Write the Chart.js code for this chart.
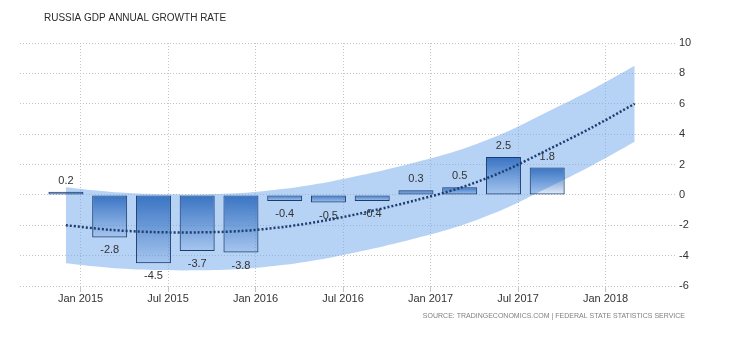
<!DOCTYPE html>
<html>
<head>
<meta charset="utf-8">
<title>Russia GDP Annual Growth Rate</title>
<script src="https://cdn.jsdelivr.net/npm/chart.js@4"></script>
<style>
  html, body { margin: 0; padding: 0; background: #fff; }
</style>
</head>
<body>
<canvas id="grafico" width="730" height="340"></canvas>
<script>
// datos (fin de cada trimestre)
const trimestres = ['2014-12', '2015-03', '2015-06', '2015-09', '2015-12', '2016-03',
                    '2016-06', '2016-09', '2016-12', '2017-03', '2017-06', '2017-09'];
const crecimiento = [0.2, -2.8, -4.5, -3.7, -3.8, -0.4, -0.5, -0.4, 0.3, 0.5, 2.5, 1.8];

// tendencia y banda de pronostico
const trimestresTendencia = [...trimestres, '2017-12', '2018-03'];
const tendencia = [-2.0, -2.3, -2.45, -2.47, -2.38, -2.1, -1.65, -1.05, -0.35, 0.45, 1.55, 2.95, 4.4, 6.0];
const bandaSuperior = [0.5, 0.2, 0.05, 0.03, 0.12, 0.4, 0.85, 1.45, 2.15, 2.95, 4.05, 5.45, 6.9, 8.5];
const bandaInferior = [-4.5, -4.8, -4.95, -4.97, -4.88, -4.6, -4.15, -3.55, -2.85, -2.05, -0.95, 0.45, 1.9, 3.5];

// etiquetas del eje x
const fechasEjeX = ['2015-01', '2015-07', '2016-01', '2016-07', '2017-01', '2017-07', '2018-01'];
const etiquetasEjeX = ['Jan 2015', 'Jul 2015', 'Jan 2016', 'Jul 2016', 'Jan 2017', 'Jul 2017', 'Jan 2018'];

const titulo = 'RUSSIA GDP ANNUAL GROWTH RATE';
const fuente = 'SOURCE: TRADINGECONOMICS.COM | FEDERAL STATE STATISTICS SERVICE';

// meses desde enero 2015
const mes = (s) => {
    const [a, m] = s.split('-').map(Number);
    return (a - 2015) * 12 + (m - 1);
};

const puntos = (fechas, valores) => valores.map((v, i) => ({ x: mes(fechas[i]), y: v }));

const FUENTE = '"Liberation Sans", Arial, sans-serif';
Chart.defaults.font.family = FUENTE;
Chart.defaults.font.size = 11;
Chart.defaults.color = '#333';

// degradado de cada barra
const colorBarra = (c) => {
    const chart = c.chart;
    if (!chart.chartArea || c.raw == null) return 'rgba(55,115,195,0.6)';
    const y = chart.scales.y;
    const p1 = y.getPixelForValue(c.raw.y);
    const p0 = y.getPixelForValue(0);
    const arriba = Math.min(p0, p1), abajo = Math.max(p0, p1);
    const g = chart.ctx.createLinearGradient(0, arriba, 0, abajo + 0.01);
    g.addColorStop(0, 'rgba(50,110,192,0.95)');
    g.addColorStop(1, 'rgba(50,110,192,0.12)');
    return g;
};

// valores sobre / bajo las barras
const etiquetasValor = {
    id: 'etiquetasValor',
    afterDatasetDraw(chart, args) {
        if (args.index !== 0) return;
        const ctx = chart.ctx;
        ctx.save();
        ctx.font = '11px ' + FUENTE;
        ctx.fillStyle = '#333';
        ctx.textAlign = 'center';
        ctx.textBaseline = 'middle';
        args.meta.data.forEach((barra, i) => {
            const v = crecimiento[i];
            const y = v >= 0 ? barra.y - 11 : barra.y + 13;
            ctx.fillText(v.toFixed(1), barra.x, y);
        });
        ctx.restore();
    }
};

// titulo y fuente
const textos = {
    id: 'textos',
    afterDraw(chart) {
        const ctx = chart.ctx;
        ctx.save();
        ctx.textBaseline = 'middle';
        ctx.fillStyle = '#2b2b2b';
        ctx.textAlign = 'left';
        ctx.font = '10px ' + FUENTE;
        ctx.fillText(titulo, 44, 18);
        ctx.fillStyle = '#808080';
        ctx.textAlign = 'right';
        ctx.font = '7px ' + FUENTE;
        ctx.fillText(fuente, 685, 316);
        ctx.restore();
    }
};

const grafico = new Chart(document.getElementById('grafico').getContext('2d'), {
    type: 'bar',
    data: {
        datasets: [
            {
                type: 'bar',
                data: puntos(trimestres, crecimiento),
                backgroundColor: colorBarra,
                borderColor: '#1b3c6c',
                borderWidth: 1,
                borderSkipped: false,
                barPercentage: 0.8,
                categoryPercentage: 1,
                order: 2
            },
            {
                type: 'line',
                data: puntos(trimestresTendencia, bandaSuperior),
                borderWidth: 0,
                pointRadius: 0,
                tension: 0.3,
                fill: '+1',
                backgroundColor: 'rgba(110,165,235,0.5)',
                order: 3
            },
            {
                type: 'line',
                data: puntos(trimestresTendencia, bandaInferior),
                borderWidth: 0,
                pointRadius: 0,
                tension: 0.3,
                fill: false,
                order: 3
            },
            {
                type: 'line',
                data: puntos(trimestresTendencia, tendencia),
                borderColor: '#1d3d6e',
                borderWidth: 2.5,
                borderDash: [2, 2],
                pointRadius: 0,
                tension: 0.3,
                fill: false,
                order: 1
            }
        ]
    },
    options: {
        responsive: false,
        animation: false,
        layout: { padding: { left: 20, top: 43, right: 0, bottom: 0 } },
        plugins: {
            legend: { display: false },
            tooltip: { enabled: false }
        },
        scales: {
            x: {
                type: 'linear',
                offset: false,
                min: -4.15,
                max: 40.9,
                afterBuildTicks: (eje) => {
                    eje.ticks = fechasEjeX.map(f => ({ value: mes(f) }));
                },
                afterFit: (eje) => { eje.height = 54; },
                ticks: {
                    autoSkip: false,
                    maxRotation: 0,
                    padding: 0,
                    color: '#333',
                    callback: (v, i) => etiquetasEjeX[i]
                },
                grid: { color: '#c4c4c4', offset: false, drawTicks: true, tickLength: 6 },
                border: { display: false, dash: [1, 2] }
            },
            y: {
                position: 'right',
                min: -6,
                max: 10,
                afterFit: (eje) => { eje.width = 53; },
                ticks: { stepSize: 2, padding: 2, color: '#333' },
                grid: { color: '#c4c4c4', drawTicks: false },
                border: { display: false, dash: [1, 2] }
            }
        }
    },
    plugins: [etiquetasValor, textos]
});
</script>
</body>
</html>
